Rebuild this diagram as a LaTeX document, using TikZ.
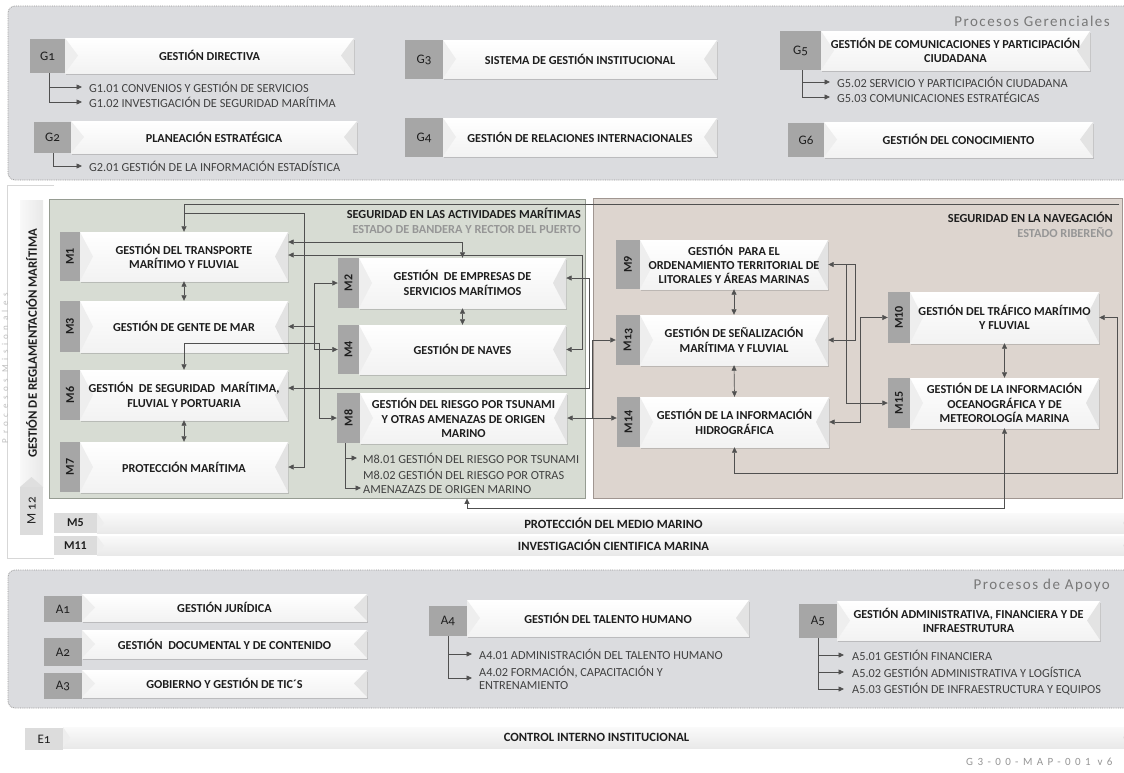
\documentclass[tikz,border=0pt]{standalone}
\usepackage{fontspec}
\usepackage{graphicx}
\setmainfont{Carlito}
\newfontfamily\titlefont[LetterSpace=10]{Carlito}
\newfontfamily\misfont[LetterSpace=50]{Carlito}
\newfontfamily\codefont[LetterSpace=40]{Carlito}
\newfontfamily\tabfont[Numbers=OldStyle]{Carlito}
\usetikzlibrary{arrows.meta,shadows}

\definecolor{panelgray}{RGB}{219,220,223}
\definecolor{dotgray}{RGB}{150,150,150}
\definecolor{framecol}{RGB}{215,215,215}
\definecolor{tabgray}{RGB}{166,166,166}
\definecolor{tablight}{RGB}{220,220,220}
\definecolor{greenpan}{RGB}{215,220,211}
\definecolor{greenline}{RGB}{150,156,146}
\definecolor{brownpan}{RGB}{221,213,207}
\definecolor{brownline}{RGB}{160,150,145}
\definecolor{linecol}{RGB}{80,80,80}
\definecolor{txtcol}{RGB}{30,30,30}
\definecolor{subcol}{RGB}{65,65,65}
\definecolor{titlecol}{RGB}{120,120,120}
\definecolor{softcol}{RGB}{150,150,150}
\definecolor{faintcol}{RGB}{190,190,190}

\tikzset{
  bevelw/.store in=\bevw, bevelw=13pt,
  panel/.style={draw=dotgray, densely dotted, line width=0.8pt, fill=panelgray, rounded corners=7pt, inner sep=0pt},
  bevelbox/.style={inner sep=1pt, align=center, text=txtcol, font=\bfseries\fontsize{12.2}{14.3}\selectfont,
    path picture={
      \fill[gray!13] (path picture bounding box.north west) -- ([xshift=\bevw]path picture bounding box.west) -- (path picture bounding box.south west) -- cycle;
      \fill[gray!22] (path picture bounding box.north east) -- ([xshift=-\bevw]path picture bounding box.east) -- (path picture bounding box.south east) -- cycle;
    }},
  procbox/.style={bevelbox, top color=white, bottom color=gray!10,
    drop shadow={shadow xshift=1.2pt, shadow yshift=-1.6pt, opacity=0.35}},
  barbox/.style={bevelbox, bevelw=7pt, top color=gray!4, bottom color=gray!17, font=\bfseries\fontsize{12.6}{13}\selectfont,
    drop shadow={shadow xshift=0.8pt, shadow yshift=-1pt, opacity=0.25}},
  vbar/.style={inner sep=0pt, left color=gray!5, right color=gray!18, text=txtcol, font=\bfseries\fontsize{12.8}{12.8}\selectfont,
    path picture={
      \fill[gray!25] (path picture bounding box.south west) -- ([yshift=10pt]path picture bounding box.south) -- (path picture bounding box.south east) -- cycle;
    }},
  tabbox/.style={fill=tabgray, inner sep=0pt, text=txtcol, font=\tabfont\fontsize{13}{13}\selectfont},
  lighttab/.style={tabbox, fill=tablight},
  mtab/.style={fill=tabgray, inner sep=0pt, text=txtcol, font=\bfseries\fontsize{12}{12}\selectfont},
  bartab/.style={mtab, fill=tablight},
  subtxt/.style={anchor=west, inner sep=0pt, align=left, text=subcol, font=\fontsize{12.3}{13.5}\selectfont},
  conn/.style={draw=linecol, line width=0.7pt, -{Triangle[length=5.5pt,width=5pt]}},
  dconn/.style={conn, {Triangle[length=5.5pt,width=5pt]}-{Triangle[length=5.5pt,width=5pt]}},
  grptitle/.style={inner sep=0pt, text=titlecol, font=\titlefont\fontsize{15}{15}\selectfont},
  zonetitle/.style={anchor=north east, inner sep=0pt, align=right, text=txtcol, font=\bfseries\fontsize{12.3}{14.5}\selectfont}
}

\begin{document}
\begin{tikzpicture}[x=1pt,y=-1pt]
\useasboundingbox (0,0) rectangle (1124,772);
\fill[white] (0,0) rectangle (1124,772);

% procesos gerenciales
\node[panel, minimum width=1132, minimum height=174] (pger) at (574,93) {};
\node[grptitle, anchor=east] (tger) at (1110,21) {Procesos Gerenciales};

\node[tabbox, minimum width=35, minimum height=34] (g1t) at (47.5,56) {G1};
\node[procbox, minimum width=289, minimum height=35] (g1) at (209.5,55.5) {GESTIÓN DIRECTIVA};
\node[subtxt] (g101) at (89,87) {G1.01 CONVENIOS Y GESTIÓN DE SERVICIOS};
\node[subtxt] (g102) at (89,102) {G1.02 INVESTIGACIÓN DE SEGURIDAD MARÍTIMA};
\draw[conn] ([xshift=2pt]g1t.south) |- ([xshift=-7pt]g101.west);
\draw[conn] ([xshift=2pt]g1t.south) |- ([xshift=-7pt]g102.west);

\node[tabbox, minimum width=37, minimum height=31] (g2t) at (52.5,137.5) {G2};
\node[procbox, minimum width=286, minimum height=32] (g2) at (214,137) {PLANEACIÓN ESTRATÉGICA};
\node[subtxt] (g201) at (89,166) {G2.01 GESTIÓN DE LA INFORMACIÓN ESTADÍSTICA};
\draw[conn] ([xshift=1pt]g2t.south) |- ([xshift=-7pt]g201.west);

\node[tabbox, minimum width=38, minimum height=39] (g3t) at (424,59.5) {G3};
\node[procbox, minimum width=274, minimum height=38] (g3) at (580,59) {SISTEMA DE GESTIÓN INSTITUCIONAL};
\node[tabbox, minimum width=38, minimum height=39] (g4t) at (424,137.5) {G4};
\node[procbox, minimum width=274, minimum height=38] (g4) at (580,137) {GESTIÓN DE RELACIONES INTERNACIONALES};

\node[tabbox, minimum width=41, minimum height=39] (g5t) at (800.5,50.5) {G5};
\node[procbox, minimum width=269, minimum height=39] (g5) at (955.5,50.5) {GESTIÓN DE COMUNICACIONES Y PARTICIPACIÓN\\CIUDADANA};
\node[subtxt] (g502) at (837,82) {G5.02 SERVICIO Y PARTICIPACIÓN CIUDADANA};
\node[subtxt] (g503) at (837,97) {G5.03 COMUNICACIONES ESTRATÉGICAS};
\draw[conn] ([xshift=1.5pt]g5t.south) |- ([xshift=-7pt]g502.west);
\draw[conn] ([xshift=1.5pt]g5t.south) |- ([xshift=-7pt]g503.west);

\node[tabbox, minimum width=36, minimum height=34] (g6t) at (806,140) {G6};
\node[procbox, minimum width=269, minimum height=35] (g6) at (958.5,139.5) {GESTIÓN DEL CONOCIMIENTO};

% procesos misionales
\draw[framecol, line width=0.6pt] (54,185) -- (7,185) -- (7,558) -- (54,558);
\node[inner sep=0pt, text=faintcol, font=\misfont\fontsize{9}{9}\selectfont, rotate=90] (tmis) at (5,368) {Procesos Misionales};
\node[vbar, minimum width=23, minimum height=287] (vreg) at (31.5,343.5) {\rotatebox{90}{GESTIÓN DE REGLAMENTACIÓN MARÍTIMA}};
\node[lighttab, minimum width=23, minimum height=48] (m12t) at (31.5,511) {\rotatebox{90}{M 12}};

\node[draw=greenline, fill=greenpan, line width=0.8pt, inner sep=0pt, minimum width=536, minimum height=299] (gpanel) at (317,348.5) {};
\node[draw=brownline, fill=brownpan, line width=0.8pt, inner sep=0pt, minimum width=529, minimum height=300] (bpanel) at (857.5,348) {};
\node[zonetitle] (tsam) at (581,208) {SEGURIDAD EN LAS ACTIVIDADES MARÍTIMAS\\\textcolor{softcol}{ESTADO DE BANDERA Y RECTOR DEL PUERTO}};
\node[zonetitle] (tsnav) at (1113,212) {SEGURIDAD EN LA NAVEGACIÓN\\\textcolor{softcol}{ESTADO RIBEREÑO}};

\node[mtab, minimum width=20, minimum height=49] (m1t) at (70,256.5) {\rotatebox{90}{M1}};
\node[procbox, minimum width=208, minimum height=49] (m1) at (184,256.5) {GESTIÓN DEL TRANSPORTE\\MARÍTIMO Y FLUVIAL};
\node[mtab, minimum width=20, minimum height=51] (m3t) at (70,326.5) {\rotatebox{90}{M3}};
\node[procbox, minimum width=208, minimum height=51] (m3) at (184,326.5) {GESTIÓN DE GENTE DE MAR};
\node[mtab, minimum width=20, minimum height=50] (m6t) at (70,395) {\rotatebox{90}{M6}};
\node[procbox, minimum width=208, minimum height=50] (m6) at (184,395) {GESTIÓN~ DE SEGURIDAD~ MARÍTIMA,\\FLUVIAL Y PORTUARIA};
\node[mtab, minimum width=20, minimum height=50] (m7t) at (70,467) {\rotatebox{90}{M7}};
\node[procbox, minimum width=208, minimum height=50] (m7) at (184,467) {PROTECCIÓN MARÍTIMA};

\node[mtab, minimum width=21, minimum height=50] (m2t) at (348.5,283) {\rotatebox{90}{M2}};
\node[procbox, minimum width=207, minimum height=50] (m2) at (462.5,283) {GESTIÓN~ DE EMPRESAS DE\\SERVICIOS MARÍTIMOS};
\node[mtab, minimum width=21, minimum height=49] (m4t) at (348.5,349.5) {\rotatebox{90}{M4}};
\node[procbox, minimum width=207, minimum height=49] (m4) at (462.5,349.5) {GESTIÓN DE NAVES};
\node[mtab, minimum width=23, minimum height=50] (m8t) at (348.5,418) {\rotatebox{90}{M8}};
\node[procbox, minimum width=207, minimum height=50] (m8) at (463.5,418) {GESTIÓN DEL RIESGO POR TSUNAMI\\Y OTRAS AMENAZAS DE ORIGEN\\MARINO};
\node[subtxt] (m801) at (363,458) {M8.01 GESTIÓN DEL RIESGO POR TSUNAMI};
\node[subtxt] (m802) at (363,481.5) {M8.02 GESTIÓN DEL RIESGO POR OTRAS\\AMENAZAZS DE ORIGEN MARINO};
\draw[conn] ([xshift=-3pt]m8t.south) |- ([xshift=-6pt]m801.west);
\draw[conn] ([xshift=-3pt]m8t.south) |- ([xshift=-2pt,yshift=-6.5pt]m802.west);

\node[mtab, minimum width=24, minimum height=49] (m9t) at (628,264.5) {\rotatebox{90}{M9}};
\node[procbox, minimum width=188, minimum height=49] (m9) at (734,264.5) {GESTIÓN~ PARA EL\\ORDENAMIENTO TERRITORIAL DE\\LITORALES Y ÁREAS MARINAS};
\node[mtab, minimum width=24, minimum height=50] (m13t) at (628,340) {\rotatebox{90}{\tabfont M13}};
\node[procbox, minimum width=188, minimum height=50] (m13) at (734,340) {GESTIÓN DE SEÑALIZACIÓN\\MARÍTIMA Y FLUVIAL};
\node[mtab, minimum width=23, minimum height=50] (m14t) at (628.5,422) {\rotatebox{90}{M14}};
\node[procbox, minimum width=189, minimum height=50] (m14) at (734.5,422) {GESTIÓN DE LA INFORMACIÓN\\HIDROGRÁFICA};
\node[mtab, minimum width=22, minimum height=51] (m10t) at (899,317.5) {\rotatebox{90}{M10}};
\node[procbox, minimum width=189, minimum height=51] (m10) at (1004.5,317.5) {GESTIÓN DEL TRÁFICO MARÍTIMO\\Y FLUVIAL};
\node[mtab, minimum width=22, minimum height=50] (m15t) at (899,403) {\rotatebox{90}{M15}};
\node[procbox, minimum width=189, minimum height=50] (m15) at (1004.5,403) {GESTIÓN DE LA INFORMACIÓN\\OCEANOGRÁFICA Y DE\\METEOROLOGÍA MARINA};

% conectores misionales
\coordinate (topend) at (1119,204);
\coordinate (busm7) at (304,213);
\coordinate (jm4) at (582,255);
\coordinate (jm2) at (589,278);
\coordinate (jm3) at (314,326.5);
\coordinate (jm6) at (319,343);
\coordinate (jm8) at (592,418);
\draw[conn] (topend) -| (m1.north);
\draw[conn] (m1.north |- busm7) -- (busm7) |- (m7.east);
\draw[dconn] (m1.east |- 0,242) -| (m2.north);
\draw[dconn] (m1.east |- jm4) -- (jm4) |- (m4.east);
\draw[dconn] (m2.east |- jm2) -- (jm2) |- (m6.east |- 0,388);
\draw[conn] (jm3) -- (m3.east);
\draw[conn] (jm3) |- (m2t.west);
\draw[conn] (jm3) |- (m4t.west);
\draw[conn] (jm6) -| (m6.north);
\draw[conn] (jm6) |- (m8t.west);
\draw[dconn] (m8.east) -- (m14t.west |- m8.east);
\draw[conn] (jm8) |- (m13t.west);
\draw[dconn] (m1.south) -- (m3.north);
\draw[dconn] (m6.south) -- (m7.north);
\draw[dconn] (m2.south) -- (m4.north);
\draw[dconn] (m9.south) -- (m13.north);
\draw[dconn] (m13.south) -- (m14.north);
\draw[dconn] (m10.south) -- (m15.north);
\draw[dconn] (m9.east) -- (m9.east -| 855,0) |- (m13.east);
\draw[conn] (m9.east -| 846,0) |- (m15t.west);
\draw[dconn] (m14.east) -- (m14.east -| 860,0) |- (m10t.west);
\draw[dconn] (m10.east) -- (m10.east -| 1117,0) |- (m14.south |- 0,473) -- (m14.south);
\draw[dconn] (m15.south) |- (467,508) -- (467,0 |- gpanel.south);

\node[bartab, minimum width=43, minimum height=20] (m5t) at (75.5,523) {M5};
\node[barbox, minimum width=1033, minimum height=20] (m5) at (613.5,523) {PROTECCIÓN DEL MEDIO MARINO};
\node[bartab, minimum width=43, minimum height=19] (m11t) at (75.5,545.5) {M11};
\node[barbox, minimum width=1033, minimum height=19] (m11) at (613.5,545.5) {INVESTIGACIÓN CIENTIFICA MARINA};

% procesos de apoyo
\node[panel, minimum width=1132, minimum height=138] (papo) at (574,639) {};
\node[grptitle, anchor=east] (tapo) at (1110,585) {Procesos de Apoyo};

\node[tabbox, minimum width=38, minimum height=26] (a1t) at (63,609) {A1};
\node[procbox, minimum width=285, minimum height=27] (a1) at (224.5,607.5) {GESTIÓN JURÍDICA};
\node[tabbox, minimum width=38, minimum height=28] (a2t) at (63,652) {A2};
\node[procbox, minimum width=285, minimum height=28] (a2) at (224.5,644) {GESTIÓN~ DOCUMENTAL Y DE CONTENIDO};
\node[tabbox, minimum width=38, minimum height=26] (a3t) at (63,686) {A3};
\node[procbox, minimum width=285, minimum height=27] (a3) at (224.5,683.5) {GOBIERNO Y GESTIÓN DE TIC´S};

\node[tabbox, minimum width=38, minimum height=30] (a4t) at (448,621) {A4};
\node[procbox, minimum width=282, minimum height=36] (a4) at (608,618) {GESTIÓN DEL TALENTO HUMANO};
\node[subtxt] (a401) at (479,654) {A4.01 ADMINISTRACIÓN DEL TALENTO HUMANO};
\node[subtxt] (a402) at (479,678) {A4.02 FORMACIÓN, CAPACITACIÓN Y\\ENTRENAMIENTO};
\draw[conn] (a4t.south) |- ([xshift=-7pt]a401.west);
\draw[conn] (a4t.south) |- ([xshift=-7pt]a402.west);

\node[tabbox, minimum width=38, minimum height=34] (a5t) at (818,621) {A5};
\node[procbox, minimum width=263, minimum height=39] (a5) at (968.5,620.5) {GESTIÓN ADMINISTRATIVA, FINANCIERA Y DE\\INFRAESTRUTURA};
\node[subtxt] (a501) at (852,655) {A5.01 GESTIÓN FINANCIERA};
\node[subtxt] (a502) at (852,672) {A5.02 GESTIÓN ADMINISTRATIVA Y LOGÍSTICA};
\node[subtxt] (a503) at (852,689) {A5.03 GESTIÓN DE INFRAESTRUCTURA Y EQUIPOS};
\draw[conn] (a5t.south) |- ([xshift=-8pt]a501.west);
\draw[conn] (a5t.south) |- ([xshift=-8pt]a502.west);
\draw[conn] (a5t.south) |- ([xshift=-8pt]a503.west);

% control interno
\node[lighttab, minimum width=38, minimum height=22] (e1t) at (44,739) {E1};
\node[barbox, minimum width=1067, minimum height=21] (e1) at (596.5,737.5) {CONTROL INTERNO INSTITUCIONAL};
\node[anchor=west, inner sep=0pt, text=softcol, font=\codefont\fontsize{11}{11}\selectfont] (code) at (966,762) {G3-00-MAP-001 v6};
\end{tikzpicture}
\end{document}
